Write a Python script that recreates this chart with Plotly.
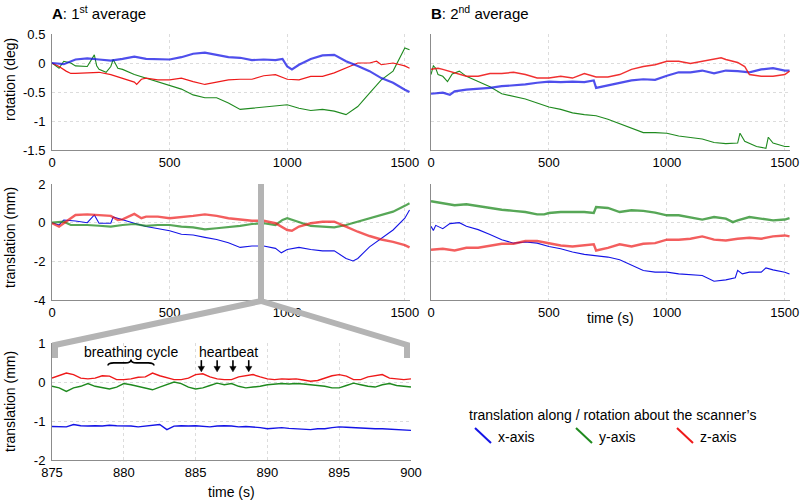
import plotly.graph_objects as go

# ---------------- data ----------------
# Panel A (1st average) rotation (deg)
a_rot_x_t = [0, 50, 100, 150, 200, 250, 300, 350, 400, 450, 500, 550, 600, 650, 700, 750, 800, 850, 900, 950, 980, 1000, 1020, 1050, 1100, 1150, 1200, 1220, 1250, 1300, 1350, 1400, 1450, 1500, 1520]
a_rot_x_v = [0, -0.02, 0.06, 0.08, 0.06, 0.04, 0.07, 0.11, 0.07, 0.06, 0.06, 0.1, 0.16, 0.18, 0.14, 0.1, 0.09, 0.05, 0.06, 0.05, 0.07, -0.06, -0.11, -0.03, 0.07, 0.13, 0.14, 0.1, 0.03, -0.05, -0.14, -0.26, -0.34, -0.46, -0.5]
a_rot_z_t = [0, 30, 60, 80, 100, 150, 200, 250, 300, 330, 350, 360, 380, 400, 450, 500, 550, 600, 650, 700, 750, 800, 850, 900, 950, 1000, 1050, 1100, 1150, 1200, 1250, 1300, 1350, 1380, 1400, 1450, 1500, 1520]
a_rot_z_v = [0, -0.06, -0.14, -0.18, -0.18, -0.17, -0.16, -0.2, -0.26, -0.3, -0.33, -0.37, -0.28, -0.26, -0.29, -0.29, -0.26, -0.32, -0.37, -0.33, -0.29, -0.28, -0.28, -0.22, -0.2, -0.28, -0.29, -0.23, -0.23, -0.17, -0.09, 0, 0, 0.03, -0.03, 0, -0.05, -0.09]
a_rot_y_t = [0, 30, 50, 80, 100, 150, 180, 190, 200, 230, 250, 260, 280, 300, 350, 400, 450, 500, 550, 600, 650, 700, 750, 800, 850, 900, 950, 1000, 1050, 1100, 1150, 1200, 1250, 1270, 1300, 1350, 1400, 1450, 1480, 1500, 1520]
a_rot_y_v = [0, -0.09, 0.03, 0, -0.05, -0.06, 0.14, -0.05, -0.11, -0.16, -0.06, 0.06, -0.09, -0.11, -0.2, -0.26, -0.32, -0.39, -0.45, -0.55, -0.6, -0.6, -0.69, -0.8, -0.78, -0.76, -0.74, -0.72, -0.78, -0.82, -0.8, -0.83, -0.89, -0.83, -0.75, -0.52, -0.29, -0.14, 0.11, 0.26, 0.23]

# Panel B (2nd average) rotation (deg)
b_rot_x_t = [0, 50, 80, 100, 150, 200, 250, 300, 350, 400, 450, 500, 550, 600, 650, 690, 700, 750, 800, 850, 900, 950, 1000, 1050, 1100, 1150, 1200, 1250, 1300, 1350, 1400, 1450, 1500, 1520]
b_rot_x_v = [-0.53, -0.51, -0.55, -0.49, -0.46, -0.45, -0.43, -0.4, -0.39, -0.37, -0.34, -0.32, -0.33, -0.32, -0.33, -0.3, -0.43, -0.39, -0.34, -0.3, -0.28, -0.29, -0.22, -0.16, -0.16, -0.13, -0.18, -0.13, -0.14, -0.16, -0.11, -0.09, -0.13, -0.13]
b_rot_z_t = [0, 30, 50, 100, 150, 200, 250, 300, 350, 400, 450, 500, 550, 600, 650, 700, 750, 800, 850, 900, 950, 1000, 1050, 1100, 1150, 1200, 1230, 1250, 1300, 1330, 1350, 1400, 1450, 1500, 1520]
b_rot_z_v = [-0.11, -0.09, -0.11, -0.17, -0.23, -0.23, -0.18, -0.18, -0.16, -0.2, -0.26, -0.26, -0.23, -0.26, -0.18, -0.24, -0.24, -0.2, -0.11, -0.06, -0.03, 0.03, 0.03, -0.01, 0.03, 0.07, 0.09, 0.06, 0.01, -0.06, -0.2, -0.23, -0.23, -0.2, -0.14]
b_rot_y_t = [0, 10, 20, 30, 50, 70, 90, 120, 150, 200, 250, 300, 350, 400, 450, 500, 550, 600, 650, 700, 750, 800, 850, 900, 950, 1000, 1050, 1100, 1150, 1200, 1250, 1300, 1310, 1330, 1380, 1420, 1430, 1450, 1500, 1520]
b_rot_y_v = [-0.2, -0.05, -0.09, -0.2, -0.23, -0.32, -0.19, -0.14, -0.23, -0.32, -0.41, -0.53, -0.57, -0.62, -0.69, -0.76, -0.8, -0.86, -0.89, -0.91, -0.97, -1.05, -1.12, -1.2, -1.2, -1.21, -1.26, -1.28, -1.31, -1.37, -1.39, -1.38, -1.21, -1.35, -1.44, -1.47, -1.28, -1.38, -1.44, -1.44]

# Panel A translation (mm)
a_tr_x_t = [0, 30, 50, 100, 150, 180, 200, 250, 260, 300, 350, 400, 450, 500, 550, 600, 650, 700, 750, 800, 850, 900, 950, 975, 1000, 1050, 1100, 1150, 1200, 1250, 1280, 1300, 1350, 1400, 1450, 1500, 1520]
a_tr_x_v = [0, -0.12, 0.14, 0.09, 0, 0.4, -0.03, -0.03, 0.3, 0.14, -0.03, -0.2, -0.3, -0.42, -0.6, -0.64, -0.76, -0.87, -1.04, -1.28, -1.21, -1.21, -1.33, -1.56, -1.39, -1.28, -1.39, -1.46, -1.46, -1.85, -1.98, -1.85, -1.25, -0.81, -0.38, 0.23, 0.66]
a_tr_z_t = [0, 30, 50, 80, 100, 150, 200, 250, 280, 300, 350, 380, 400, 450, 500, 550, 600, 650, 700, 750, 800, 850, 900, 950, 1000, 1020, 1050, 1100, 1150, 1200, 1250, 1300, 1350, 1400, 1450, 1500, 1520]
a_tr_z_v = [-0.03, -0.2, -0.03, 0.23, 0.4, 0.43, 0.4, 0.35, 0.14, 0.17, 0.45, 0.23, 0.31, 0.31, 0.23, 0.28, 0.35, 0.43, 0.35, 0.23, 0.17, 0.1, 0.1, -0.03, -0.38, -0.42, -0.2, -0.03, 0.05, 0.05, -0.2, -0.47, -0.69, -0.87, -0.99, -1.16, -1.28]
a_tr_y_t = [0, 50, 80, 100, 150, 200, 250, 300, 350, 400, 450, 500, 550, 600, 650, 700, 750, 800, 850, 900, 950, 980, 1000, 1050, 1100, 1150, 1200, 1250, 1300, 1350, 1400, 1450, 1500, 1520]
a_tr_y_v = [0, 0.05, -0.12, -0.12, -0.12, -0.16, -0.2, -0.12, -0.07, -0.17, -0.12, -0.12, -0.2, -0.24, -0.35, -0.29, -0.24, -0.17, -0.07, -0.03, -0.12, 0.14, 0.23, 0.05, -0.17, -0.2, -0.24, -0.12, 0.05, 0.23, 0.4, 0.57, 0.87, 1.0]

# Panel B translation (mm)
b_tr_y_t = [0, 50, 100, 150, 200, 250, 300, 350, 400, 450, 480, 500, 550, 600, 650, 690, 700, 750, 800, 850, 900, 950, 1000, 1050, 1100, 1150, 1200, 1250, 1280, 1300, 1350, 1400, 1450, 1500, 1520]
b_tr_y_v = [1.11, 0.99, 0.9, 0.95, 0.85, 0.78, 0.67, 0.61, 0.55, 0.43, 0.43, 0.5, 0.55, 0.55, 0.55, 0.5, 0.81, 0.76, 0.55, 0.64, 0.61, 0.52, 0.38, 0.38, 0.26, 0.16, 0.29, 0.21, 0.03, 0.12, 0.29, 0.21, 0.12, 0.16, 0.24]
b_tr_z_t = [0, 50, 100, 150, 200, 250, 300, 350, 400, 450, 500, 550, 600, 650, 690, 700, 750, 800, 850, 900, 950, 1000, 1050, 1100, 1150, 1200, 1250, 1300, 1350, 1400, 1450, 1500, 1520]
b_tr_z_v = [-1.4, -1.35, -1.44, -1.3, -1.3, -1.18, -1.09, -1.09, -0.95, -0.95, -1.06, -1.18, -1.23, -1.18, -1.12, -1.44, -1.3, -1.12, -1.23, -1.09, -1.06, -0.88, -0.88, -0.83, -0.71, -0.88, -0.92, -0.83, -0.78, -0.83, -0.71, -0.66, -0.71]
b_tr_x_t = [0, 10, 20, 50, 80, 100, 120, 150, 200, 250, 300, 350, 400, 450, 500, 550, 600, 650, 700, 750, 800, 850, 900, 950, 1000, 1050, 1100, 1150, 1200, 1250, 1290, 1300, 1320, 1350, 1400, 1420, 1450, 1500, 1520]
b_tr_x_v = [-0.19, -0.4, -0.14, -0.31, -0.05, -0.02, 0.0, -0.19, -0.36, -0.61, -0.88, -1.06, -1.0, -1.06, -1.23, -1.35, -1.52, -1.64, -1.7, -1.78, -1.92, -2.21, -2.47, -2.56, -2.56, -2.65, -2.68, -2.73, -3.03, -2.96, -2.85, -2.47, -2.65, -2.56, -2.56, -2.34, -2.44, -2.56, -2.65]

# Zoomed segment 875-900 s, translation (mm)
zoom_t = [875, 875.5, 876, 876.5, 877, 877.5, 878, 878.5, 879, 879.5, 880, 880.5, 881, 881.5, 882, 882.5, 883, 883.5, 884, 884.5,
          885, 885.5, 886, 886.5, 887, 887.5, 888, 888.5, 889, 889.5, 890, 890.5, 891, 891.5, 892, 892.5, 893, 893.5, 894, 894.5,
          895, 895.5, 896, 896.5, 897, 897.5, 898, 898.5, 899, 899.5, 900]
zoom_z = [0.1, 0.16, 0.23, 0.19, 0.1, 0.08, 0.1, 0.16, 0.15, 0.06, 0.06, 0.08, 0.12, 0.13, 0.23, 0.16, 0.1, 0.06, 0.06, 0.1,
          0.19, 0.21, 0.13, 0.08, 0.06, 0.06, 0.13, 0.16, 0.19, 0.13, 0.08, 0.06, 0.08, 0.07, 0.08, 0.05, 0.02, 0.04, 0.1, 0.16,
          0.19, 0.15, 0.06, 0.06, 0.13, 0.16, 0.19, 0.1, 0.08, 0.06, 0.08]
zoom_y = [-0.11, -0.15, -0.24, -0.15, -0.11, -0.04, -0.11, -0.15, -0.18, -0.13, -0.04, -0.07, -0.11, -0.15, -0.2, -0.13, -0.07, 0.0, -0.04, -0.13,
          -0.18, -0.15, -0.09, -0.03, -0.07, -0.04, -0.11, -0.15, -0.13, -0.11, -0.07, -0.06, -0.04, -0.05, -0.04, -0.05, -0.07, -0.09, -0.11, -0.15,
          -0.15, -0.09, -0.03, -0.07, -0.11, -0.13, -0.07, -0.04, -0.09, -0.11, -0.13]
zoom_x = [-1.14, -1.15, -1.15, -1.09, -1.12, -1.13, -1.12, -1.13, -1.11, -1.12, -1.12, -1.13, -1.15, -1.13, -1.11, -1.09, -1.22, -1.13, -1.12, -1.13,
          -1.12, -1.13, -1.15, -1.13, -1.12, -1.13, -1.15, -1.14, -1.15, -1.17, -1.2, -1.18, -1.17, -1.19, -1.2, -1.21, -1.22, -1.2, -1.2, -1.17,
          -1.15, -1.16, -1.17, -1.18, -1.2, -1.2, -1.2, -1.21, -1.22, -1.22, -1.24]

# heartbeat marker times (s)
heartbeat_t = [885.4, 886.5, 887.6, 888.7]

# tick labels
long_x_ticks = [0, 500, 1000, 1500]
long_x_text = ["0", "500", "1000", "1500"]
rot_y_ticks = [-1.5, -1, -0.5, 0, 0.5]
rot_y_text = ["-1.5", "-1", "-0.5", "0", "0.5"]
tr_y_ticks = [-4, -2, 0, 2]
tr_y_text = ["-4", "-2", "0", "2"]
zoom_x_ticks = [875, 880, 885, 890, 895, 900]
zoom_x_text = ["875", "880", "885", "890", "895", "900"]
zoom_y_ticks = [-2, -1, 0, 1]
zoom_y_text = ["-2", "-1", "0", "1"]

# ---------------- figure ----------------
W, H = 800, 502
BLUE = "#1414e6"
GREEN = "#1f8a1f"
RED = "#ee1a1a"
FONT = "Liberation Sans, Arial, sans-serif"


def px(x):
    return x / W


def py(y):
    return 1 - y / H


fig = go.Figure()


def add(t, v, color, width, ax, opacity=1.0):
    fig.add_trace(go.Scatter(x=t, y=v, mode="lines", line=dict(color=color, width=width),
                             opacity=opacity, xaxis="x" + ax, yaxis="y" + ax,
                             showlegend=False, hoverinfo="skip"))


# panel A rotation (axis '')
add(a_rot_y_t, a_rot_y_v, GREEN, 1.1, "")
add(a_rot_z_t, a_rot_z_v, RED, 1.2, "")
add(a_rot_x_t, a_rot_x_v, BLUE, 2.2, "", 0.75)
# panel B rotation (axis 2)
add(b_rot_y_t, b_rot_y_v, GREEN, 1.1, "2")
add(b_rot_x_t, b_rot_x_v, BLUE, 2.2, "2", 0.75)
add(b_rot_z_t, b_rot_z_v, RED, 1.5, "2", 0.9)
# panel A translation (axis 3)
add(a_tr_x_t, a_tr_x_v, BLUE, 1.1, "3")
add(a_tr_y_t, a_tr_y_v, GREEN, 2.2, "3", 0.75)
add(a_tr_z_t, a_tr_z_v, RED, 2.4, "3", 0.7)
# panel B translation (axis 4)
add(b_tr_x_t, b_tr_x_v, BLUE, 1.1, "4")
add(b_tr_z_t, b_tr_z_v, RED, 2.4, "4", 0.7)
add(b_tr_y_t, b_tr_y_v, GREEN, 2.4, "4", 0.75)
# zoomed panel (axis 5)
add(zoom_t, zoom_x, BLUE, 1.4, "5")
add(zoom_t, zoom_y, GREEN, 1.4, "5")
add(zoom_t, zoom_z, RED, 1.4, "5")

LEFT_A = [px(52), px(410)]
LEFT_B = [px(431), px(790)]
ROW1 = [py(150), py(34)]
ROW2 = [py(300), py(184)]
ROW3 = [py(460), py(343)]

tickfont = dict(family=FONT, size=13, color="black")


def xa(domain, anchor, rng, tv, tt, show=True):
    return dict(domain=domain, anchor=anchor, range=rng, tickvals=tv, ticktext=tt,
                showticklabels=show, showgrid=True, gridcolor="#dcdcdc", griddash="dot",
                gridwidth=1, showline=True, linecolor="#8c8c8c", linewidth=1,
                zeroline=False, ticks="", tickfont=tickfont, fixedrange=True,
                automargin=False, ticklabeloverflow="allow")


def ya(domain, anchor, rng, tv, tt, show=True):
    return dict(domain=domain, anchor=anchor, range=rng, tickvals=tv, ticktext=tt,
                showticklabels=show, showgrid=True, gridcolor="#dcdcdc", griddash="dot",
                gridwidth=1, showline=True, linecolor="#8c8c8c", linewidth=1,
                zeroline=False, ticks="", tickfont=tickfont, fixedrange=True,
                ticklabelstandoff=3, automargin=False, ticklabeloverflow="allow")


XR = [0, 1522]
fig.update_layout(
    template="none",
    width=W, height=H, autosize=False,
    margin=dict(l=0, r=0, t=0, b=0, pad=0),
    paper_bgcolor="white", plot_bgcolor="white",
    font=dict(family=FONT, size=13, color="black"),
    xaxis=xa(LEFT_A, "y", XR, long_x_ticks, long_x_text),
    yaxis=ya(ROW1, "x", [-1.5, 0.5], rot_y_ticks, rot_y_text),
    xaxis2=xa(LEFT_B, "y2", XR, long_x_ticks, long_x_text),
    yaxis2=ya(ROW1, "x2", [-1.5, 0.5], rot_y_ticks, rot_y_text, show=False),
    xaxis3=xa(LEFT_A, "y3", XR, long_x_ticks, long_x_text),
    yaxis3=ya(ROW2, "x3", [-4, 2], tr_y_ticks, tr_y_text),
    xaxis4=xa(LEFT_B, "y4", XR, long_x_ticks, long_x_text),
    yaxis4=ya(ROW2, "x4", [-4, 2], tr_y_ticks, tr_y_text, show=False),
    xaxis5=xa([px(52), px(411)], "y5", [875, 900], zoom_x_ticks, zoom_x_text),
    yaxis5=ya(ROW3, "x5", [-2, 1], zoom_y_ticks, zoom_y_text),
)

shapes = []
# grey zoom connector
GREY = "#b4b4b4"
shapes.append(dict(type="path", xref="paper", yref="paper", layer="above",
                   path="M {a},{b} L {a},{c} L {d},{e} L {d},{f}".format(
                       a=px(261), b=py(184), c=py(301), d=px(55), e=py(345), f=py(358)),
                   line=dict(color=GREY, width=6)))
shapes.append(dict(type="path", xref="paper", yref="paper", layer="above",
                   path="M {a},{c} L {d},{e} L {d},{f}".format(
                       a=px(261), c=py(301), d=px(407), e=py(345), f=py(358)),
                   line=dict(color=GREY, width=6)))
# breathing-cycle brace
shapes.append(dict(type="path", xref="x5", yref="y5", layer="above",
                   path="M 878.9,0.42 Q 878.9,0.49 879.3,0.49 L 880.1,0.49 Q 880.5,0.49 880.5,0.58 "
                        "Q 880.5,0.49 880.9,0.49 L 881.7,0.49 Q 882.1,0.49 882.1,0.42",
                   line=dict(color="black", width=1.6)))
# heartbeat arrows (shaft + head)
for hx in heartbeat_t:
    shapes.append(dict(type="line", xref="x5", yref="y5", x0=hx, x1=hx, y0=0.56, y1=0.36,
                       line=dict(color="black", width=1.6)))
    shapes.append(dict(type="path", xref="x5", yref="y5",
                       path="M {a},0.40 L {b},0.40 L {c},0.26 Z".format(a=hx - 0.22, b=hx + 0.22, c=hx),
                       fillcolor="black", line=dict(color="black", width=0.5)))
# legend samples
for x0, col in [(475, BLUE), (576, GREEN), (677, RED)]:
    shapes.append(dict(type="line", xref="paper", yref="paper",
                       x0=px(x0), y0=py(428), x1=px(x0 + 16), y1=py(443),
                       line=dict(color=col, width=2)))
fig.update_layout(shapes=shapes)

ann = []


def text(x, y, s, size=13, xanchor="center", yanchor="middle", angle=0):
    ann.append(dict(x=px(x), y=py(y), xref="paper", yref="paper", text=s, showarrow=False,
                    xanchor=xanchor, yanchor=yanchor, textangle=angle,
                    font=dict(family=FONT, size=size, color="black")))


text(50, 13, "<b>A</b>: 1<sup>st</sup> average", size=15, xanchor="left")
text(429, 13, "<b>B</b>: 2<sup>nd</sup> average", size=15, xanchor="left")
text(10, 80, "rotation (deg)", size=14, angle=-90)
text(10, 238, "translation (mm)", size=14, angle=-90)
text(10, 402, "translation (mm)", size=14, angle=-90)
text(610, 318, "time (s)", size=14)
text(231, 492, "time (s)", size=14)
text(612, 415, "translation along / rotation about the scanner’s", size=14)
text(496, 437, "x-axis", size=14, xanchor="left")
text(597, 437, "y-axis", size=14, xanchor="left")
text(698, 437, "z-axis", size=14, xanchor="left")

# text labels inside the zoomed panel
for s, xv in [("breathing cycle", 880.5), ("heartbeat", 887.3)]:
    ann.append(dict(x=xv, y=0.78, xref="x5", yref="y5", text=s, showarrow=False,
                    font=dict(family=FONT, size=14, color="black")))

fig.update_layout(annotations=ann)
fig.write_html("out.html", config={"displayModeBar": False, "staticPlot": True},
               post_script="document.body.style.margin='0';document.body.style.padding='0';document.body.style.overflow='hidden';")
